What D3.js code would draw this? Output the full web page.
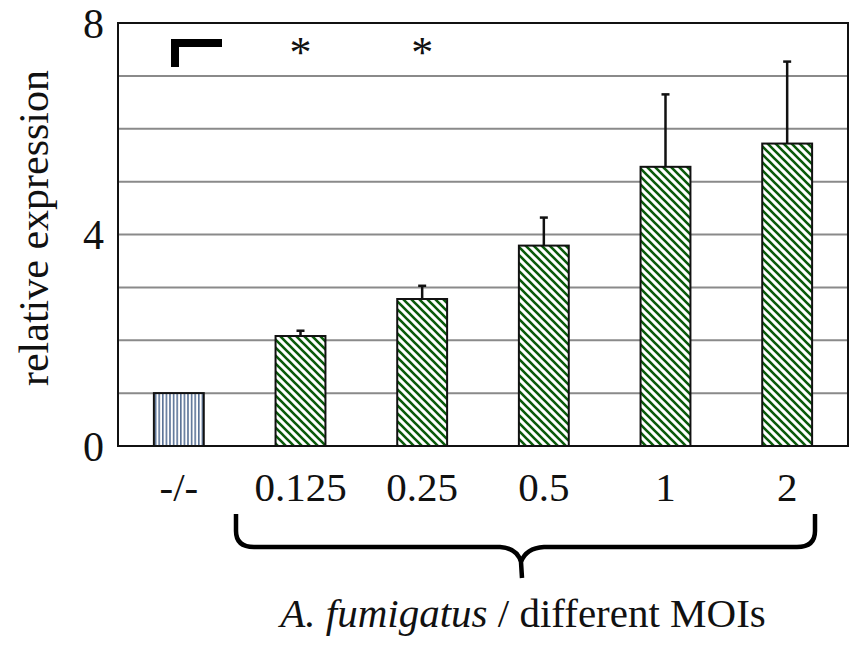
<!DOCTYPE html>
<html>
<head>
<meta charset="utf-8">
<script src="https://cdn.jsdelivr.net/npm/d3@7"></script>
<style>
  html, body { margin: 0; padding: 0; background: #fff; }
  svg { display: block; }
  text { font-family: "Liberation Serif", "Times New Roman", serif; fill: #111; }
</style>
</head>
<body>
<svg id="chart" width="851" height="645"></svg>
<script>
const categories = ["-/-", "0.125", "0.25", "0.5", "1", "2"];
const values = [1.0, 2.08, 2.78, 3.79, 5.28, 5.72];
const errors = [0, 0.10, 0.25, 0.53, 1.37, 1.55];
const significant = [false, true, true, false, false, false];
const yTicks = [0, 4, 8];
const gridValues = [1, 2, 3, 4, 5, 6, 7];
const yTitle = "relative expression";
const xTitleItalic = "A. fumigatus";
const xTitleRest = " / different MOIs";

const svg = d3.select("#chart");
const mLeft = 118, mRight = 848, mTop = 23, mBottom = 446;

const x = d3.scaleBand().domain(categories).range([mLeft, mRight])
  .paddingInner(0.59).paddingOuter(0.295);
const y = d3.scaleLinear().domain([0, 8]).range([mBottom, mTop]);

const defs = svg.append("defs");
const pv = defs.append("pattern").attr("id", "vstripe")
  .attr("patternUnits", "userSpaceOnUse").attr("width", 3.6).attr("height", 10);
pv.append("rect").attr("width", 3.6).attr("height", 10).attr("fill", "#fff");
pv.append("rect").attr("x", 0).attr("width", 1.6).attr("height", 10).attr("fill", "#5a7296");

const pd = defs.append("pattern").attr("id", "dstripe")
  .attr("patternUnits", "userSpaceOnUse").attr("width", 8).attr("height", 8);
pd.append("rect").attr("width", 8).attr("height", 8).attr("fill", "#fff");
pd.append("path").attr("d", "M-1,-1 L9,9 M-5,3 L5,13 M3,-5 L13,5")
  .attr("stroke", "#0a5a0a").attr("stroke-width", 2.6).attr("fill", "none");

// gridlines
svg.append("g").selectAll("line").data(gridValues).join("line")
  .attr("x1", mLeft).attr("x2", mRight)
  .attr("y1", d => y(d)).attr("y2", d => y(d))
  .attr("stroke", "#8a8a8a").attr("stroke-width", 2);

// frame
svg.append("rect").attr("x", mLeft).attr("y", mTop)
  .attr("width", mRight - mLeft).attr("height", mBottom - mTop)
  .attr("fill", "none").attr("stroke", "#111").attr("stroke-width", 2);

// y axis labels
const yAxis = d3.axisLeft(y).tickValues(yTicks).tickSize(0).tickPadding(14).tickFormat(d3.format("d"));
const ya = svg.append("g").attr("transform", `translate(${mLeft},0)`).call(yAxis);
ya.select(".domain").remove();
ya.selectAll("text").style("font-family", "Liberation Serif, serif")
  .style("font-size", "42px").attr("fill", "#111").attr("dy", "0.34em");

// x axis labels
const xAxis = d3.axisBottom(x).tickSize(0).tickPadding(26);
const xa = svg.append("g").attr("transform", `translate(0,${mBottom})`).call(xAxis);
xa.select(".domain").remove();
xa.selectAll("text").style("font-family", "Liberation Serif, serif")
  .style("font-size", "41px").attr("fill", "#111").attr("dy", "0.71em");

// bars
svg.append("g").selectAll("rect").data(categories).join("rect")
  .attr("x", d => x(d)).attr("width", x.bandwidth())
  .attr("y", (d, i) => y(values[i]))
  .attr("height", (d, i) => y(0) - y(values[i]))
  .attr("fill", (d, i) => i === 0 ? "url(#vstripe)" : "url(#dstripe)")
  .attr("stroke", "#111").attr("stroke-width", 2);

// error bars
const eb = svg.append("g").attr("stroke", "#111").attr("stroke-width", 2.5);
categories.forEach((c, i) => {
  if (!errors[i]) return;
  const cx = x(c) + x.bandwidth() / 2;
  eb.append("line").attr("x1", cx).attr("x2", cx)
    .attr("y1", y(values[i])).attr("y2", y(values[i] + errors[i]));
  eb.append("line").attr("x1", cx - 4).attr("x2", cx + 4)
    .attr("y1", y(values[i] + errors[i])).attr("y2", y(values[i] + errors[i]));
});

// significance asterisks
svg.append("g").selectAll("text").data(categories.filter((c, i) => significant[i])).join("text")
  .attr("x", d => x(d) + x.bandwidth() / 2).attr("y", 67)
  .attr("text-anchor", "middle").style("font-size", "44px")
  .text("*");

// corner bracket mark
svg.append("path").attr("d", "M175,67 L175,43 L222,43")
  .attr("fill", "none").attr("stroke", "#000").attr("stroke-width", 8)
  .attr("stroke-linejoin", "miter");

// y title
svg.append("text").attr("transform", "translate(48,228) rotate(-90)")
  .attr("text-anchor", "middle").style("font-size", "42px").text(yTitle);

// brace
svg.append("path")
  .attr("d", "M236,514 L236,531 Q236,547 254,547 L500,547 Q517,548 521,562 L522,578 M521,562 Q526,548 544,547 L797,547 Q815,547 815,531 L815,514")
  .attr("fill", "none").attr("stroke", "#000").attr("stroke-width", 4.5);

// x title
const xt = svg.append("text").attr("x", 523).attr("y", 627).attr("text-anchor", "middle")
  .style("font-size", "41px");
xt.append("tspan").style("font-style", "italic").text(xTitleItalic);
xt.append("tspan").text(xTitleRest);
</script>
</body>
</html>
